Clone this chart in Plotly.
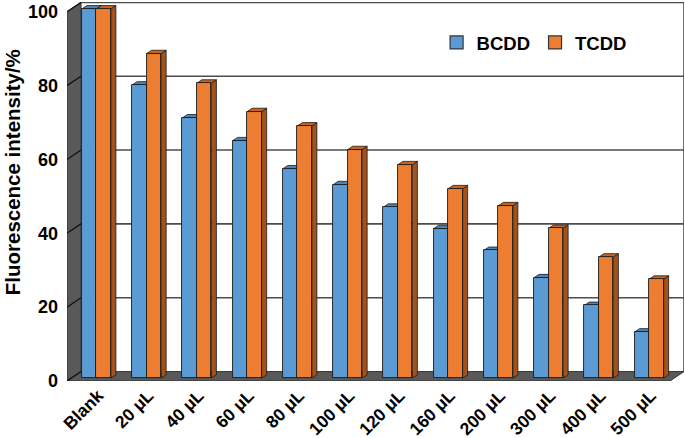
import plotly.graph_objects as go

categories = ["Blank", "20 μL", "40 μL", "60 μL", "80 μL", "100 μL",
              "120 μL", "160 μL", "200 μL", "300 μL", "400 μL", "500 μL"]
bcdd = [100, 79.4, 70.5, 64.3, 56.7, 52.4, 46.3, 40.5, 34.6, 27.2, 19.7, 12.5]
tcdd = [100, 87.9, 79.9, 72.2, 68.3, 61.9, 57.8, 51.3, 46.7, 40.6, 32.8, 26.8]
y_ticks = [0, 20, 40, 60, 80, 100]
series_names = ["BCDD", "TCDD"]
y_title = "Fluorescence intensity/%"

# styling / 3D geometry (in axis units)
N = len(categories)
DX, DY = 0.279, 2.55          # full depth of the box
F = 0.30                      # depth of bar front faces
BD = 0.36                     # bar depth as fraction of box depth
W = 0.289                     # width of one bar
YMAX = 100 + DY + 0.1
front_cols = ["#5B9BD5", "#ED7D31"]
top_cols = ["#4A84BD", "#C9631F"]
side_cols = ["#3C6C9A", "#A3521B"]
wall = "#595959"
FONT = "Liberation Sans, Arial, sans-serif"


def path(pts):
    return "M " + " L ".join(f"{x},{y}" for x, y in pts) + " Z"


shapes = []
# left wall and floor
shapes.append(dict(type="path", xref="x", yref="y", layer="below",
                   path=path([(0, 0), (DX, DY), (DX, 100 + DY), (0, 100)]),
                   fillcolor=wall, line=dict(color="#333333", width=1)))
shapes.append(dict(type="path", xref="x", yref="y", layer="below",
                   path=path([(0, 0), (N, 0), (N + DX, DY), (DX, DY)]),
                   fillcolor=wall, line=dict(color="#333333", width=1)))
# gridlines on walls
for v in y_ticks:
    shapes.append(dict(type="line", xref="x", yref="y", layer="below",
                       x0=0, y0=v, x1=DX, y1=v + DY,
                       line=dict(color="#111111", width=1.3)))
    if v > 0:
        shapes.append(dict(type="line", xref="x", yref="y", layer="below",
                           x0=DX, y0=v + DY, x1=N + DX, y1=v + DY,
                           line=dict(color="#4d4d4d", width=1.6)))
shapes.append(dict(type="line", xref="x", yref="y", layer="below",
                   x0=N + DX, y0=DY, x1=N + DX, y1=100 + DY,
                   line=dict(color="#4d4d4d", width=1.6)))

bdx, bdy = BD * DX, BD * DY
b0 = F * DY
centers = [i + 0.5 + F * DX for i in range(N)]
for s, vals in enumerate([bcdd, tcdd]):
    for c, v in zip(centers, vals):
        x0 = c - W if s == 0 else c
        x1 = x0 + W
        top = v + b0
        shapes.append(dict(type="path", xref="x", yref="y", layer="below",
                           path=path([(x1, b0), (x1 + bdx, b0 + bdy),
                                      (x1 + bdx, top + bdy), (x1, top)]),
                           fillcolor=side_cols[s], line=dict(color="#1a1a1a", width=0.8)))
        shapes.append(dict(type="path", xref="x", yref="y", layer="below",
                           path=path([(x0, top), (x1, top),
                                      (x1 + bdx, top + bdy), (x0 + bdx, top + bdy)]),
                           fillcolor=top_cols[s], line=dict(color="#1a1a1a", width=0.8)))

fig = go.Figure()
for s, vals in enumerate([bcdd, tcdd]):
    fig.add_trace(go.Bar(
        x=centers, y=vals, base=b0, width=W, offset=-W if s == 0 else 0,
        name=series_names[s], showlegend=False,
        marker=dict(color=front_cols[s], line=dict(color="#1a1a1a", width=0.9)),
    ))
# legend entries (square swatches)
for s in range(2):
    fig.add_trace(go.Scatter(
        x=[None], y=[None], mode="markers", name=series_names[s],
        marker=dict(symbol="square", size=13, color=front_cols[s],
                    line=dict(color="#333333", width=1.2)),
    ))

fig.add_annotation(text=y_title, textangle=-90, xref="paper", yref="paper",
                   x=-0.088, y=0.55, xanchor="center", yanchor="middle",
                   showarrow=False,
                   font=dict(family=FONT, size=20.5, weight="bold", color="black"))

fig.update_layout(
    width=685, height=438,
    margin=dict(l=67, r=1, t=2, b=57),
    paper_bgcolor="white", plot_bgcolor="white",
    barmode="overlay", bargap=0,
    shapes=shapes,
    font=dict(family=FONT, size=17, color="black", weight="bold"),
    showlegend=True,
    legend=dict(orientation="h", x=0.599, y=0.892, xanchor="left", yanchor="middle",
                font=dict(family=FONT, size=18.5, weight="bold"),
                bgcolor="rgba(0,0,0,0)", itemclick=False, traceorder="normal"),
    xaxis=dict(range=[0, N + DX], showgrid=False, zeroline=False, showline=False,
               automargin=False,
               tickmode="array", tickvals=[i + 0.5 + 0.12 for i in range(N)],
               ticktext=categories, tickangle=-45, ticks="",
               tickfont=dict(family=FONT, size=17.5, weight="bold")),
    yaxis=dict(range=[0, YMAX], showgrid=False, zeroline=False, showline=False,
               automargin=False,
               tickmode="array", tickvals=y_ticks, ticks="",
               ticklabelstandoff=8,
               tickfont=dict(family=FONT, size=18, weight="bold")),
)

fig.write_html("out.html", config={"displayModeBar": False},
               post_script="document.body.style.margin='0px';"
                           "document.body.style.overflow='hidden';")
